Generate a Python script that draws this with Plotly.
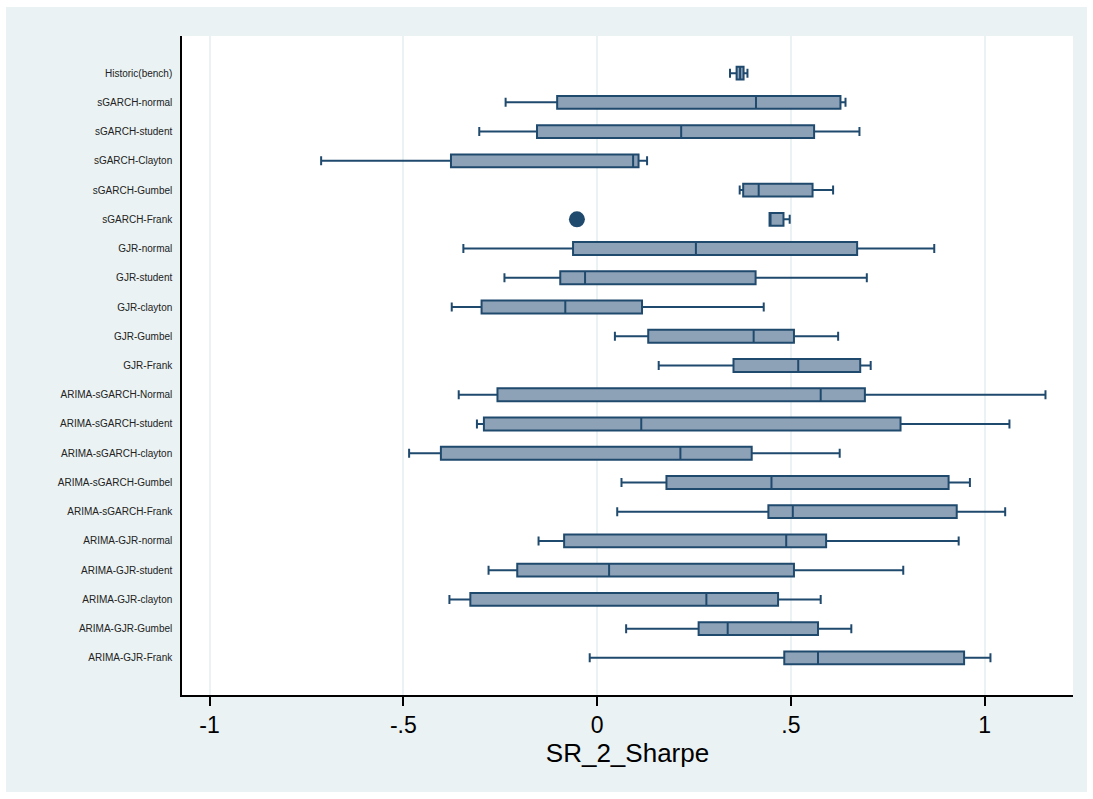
import plotly.graph_objects as go

categories = ["Historic(bench)", "sGARCH-normal", "sGARCH-student", "sGARCH-Clayton",
              "sGARCH-Gumbel", "sGARCH-Frank", "GJR-normal", "GJR-student", "GJR-clayton",
              "GJR-Gumbel", "GJR-Frank", "ARIMA-sGARCH-Normal", "ARIMA-sGARCH-student",
              "ARIMA-sGARCH-clayton", "ARIMA-sGARCH-Gumbel", "ARIMA-sGARCH-Frank",
              "ARIMA-GJR-normal", "ARIMA-GJR-student", "ARIMA-GJR-clayton",
              "ARIMA-GJR-Gumbel", "ARIMA-GJR-Frank"]

lower = [0.343, -0.236, -0.304, -0.712, 0.368, 0.445, -0.345, -0.239, -0.375, 0.046, 0.159,
         -0.357, -0.310, -0.485, 0.063, 0.052, -0.151, -0.280, -0.381, 0.075, -0.019]
q1 = [0.360, -0.103, -0.155, -0.377, 0.377, 0.445, -0.062, -0.095, -0.298, 0.132, 0.352,
      -0.257, -0.292, -0.403, 0.179, 0.442, -0.085, -0.206, -0.327, 0.262, 0.483]
median = [0.369, 0.410, 0.217, 0.093, 0.417, 0.445, 0.255, -0.031, -0.082, 0.404, 0.519,
          0.577, 0.114, 0.215, 0.450, 0.505, 0.488, 0.031, 0.282, 0.337, 0.570]
q3 = [0.378, 0.628, 0.560, 0.107, 0.556, 0.481, 0.671, 0.409, 0.116, 0.508, 0.679,
      0.691, 0.783, 0.399, 0.907, 0.928, 0.591, 0.508, 0.467, 0.570, 0.947]
upper = [0.388, 0.641, 0.677, 0.129, 0.609, 0.497, 0.870, 0.696, 0.430, 0.622, 0.706,
         1.157, 1.064, 0.626, 0.962, 1.053, 0.933, 0.790, 0.577, 0.656, 1.015]

outlier_cat = ["sGARCH-Frank"]
outlier_val = [-0.052]

tick_vals = [-1, -0.5, 0, 0.5, 1]
tick_text = ["-1", "-.5", "0", ".5", "1"]

NAVY = "#1F4A6E"
FILL = "#8EA2B7"
BG = "#EAF2F3"

fig = go.Figure()
fig.add_trace(go.Box(
    y=categories, q1=q1, median=median, q3=q3,
    lowerfence=lower, upperfence=upper,
    orientation="h", boxpoints=False,
    fillcolor=FILL, line=dict(color=NAVY, width=2),
    width=0.44, whiskerwidth=0.7, showlegend=False, hoverinfo="skip",
))
fig.add_trace(go.Scatter(
    x=outlier_val, y=outlier_cat, mode="markers",
    marker=dict(size=16, color=NAVY), showlegend=False, hoverinfo="skip",
))

L, R, T, B = 182, 20, 36, 104
W, H = 1093, 799
pw, ph = W - L - R, H - T - B

fig.add_shape(type="rect", xref="paper", yref="paper", layer="below",
              x0=(6 - L) / pw, x1=(1087 - L) / pw,
              y0=(T + ph - 792) / ph, y1=(T + ph - 7) / ph,
              fillcolor=BG, line=dict(width=0))
fig.add_shape(type="rect", xref="paper", yref="paper", layer="below",
              x0=0, x1=1, y0=0, y1=1, fillcolor="white", line=dict(width=0))

fig.update_layout(
    width=W, height=H,
    margin=dict(l=L, r=R, t=T, b=B, pad=0),
    paper_bgcolor="white", plot_bgcolor="white",
    font=dict(family="Liberation Sans, Arial, sans-serif", color="black"),
)
fig.update_xaxes(
    range=[-1.071, 1.228], tickvals=tick_vals, ticktext=tick_text,
    tickfont=dict(size=23, color="black"),
    ticks="outside", ticklen=9, tickwidth=1.5, tickcolor="black",
    showline=True, linecolor="black", linewidth=1.5,
    showgrid=True, gridcolor=BG, gridwidth=2, zeroline=False,
    title=dict(text="SR_2_Sharpe", font=dict(size=26, color="black"), standoff=6),
)
fig.update_yaxes(
    type="category", categoryorder="array", categoryarray=categories,
    range=[len(categories) - 1 + 1.27, -1.27],
    tickfont=dict(size=10, color="#222222"), ticks="", ticklabelstandoff=6,
    showline=True, linecolor="black", linewidth=1.5,
    showgrid=False, zeroline=False,
)

fig.write_html("out.html")
